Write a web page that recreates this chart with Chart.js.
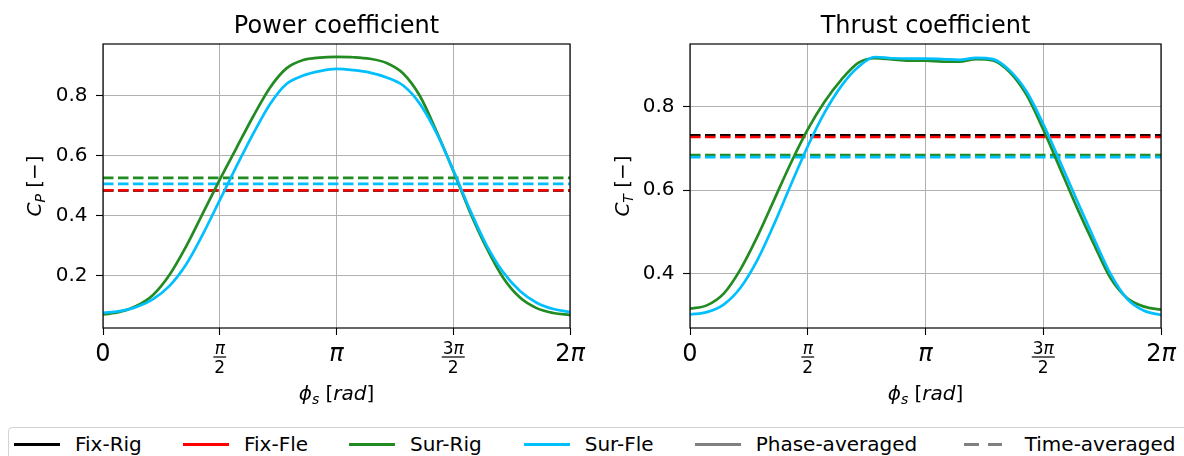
<!DOCTYPE html>
<html>
<head>
<meta charset="utf-8">
<script src="https://cdn.jsdelivr.net/npm/chart.js@4.4.1/dist/chart.umd.min.js"></script>
<style>
  html, body { margin: 0; padding: 0; background: #ffffff; }
  #wrap { position: relative; width: 1184px; height: 456px; overflow: hidden; }
  #wrap canvas { position: absolute; top: 0; }
  #cpChart { left: 0; }
  #ctChart { left: 590px; }
  #legend {
    position: absolute; left: 8px; top: 427px; width: 1200px; height: 60px;
    border: 1px solid #d3d3d3; border-radius: 4px; box-sizing: border-box;
  }
  .lg-line { position: absolute; height: 3.3px; }
  .lg-text {
    position: absolute; font: 20px 'DejaVu Sans'; line-height: 20px;
    color: #000; white-space: nowrap;
  }
</style>
</head>
<body>
<div id="wrap">
  <canvas id="cpChart" width="590" height="420"></canvas>
  <canvas id="ctChart" width="594" height="420"></canvas>
  <div id="legend"></div>
</div>
<script>
// Blade phase angle samples (rad)
const phase = [0, 0.224, 0.449, 0.673, 0.898, 1.122, 1.346, 1.571, 1.795, 2.020,
               2.244, 2.468, 2.693, 2.917, 3.142, 3.366, 3.590, 3.815, 4.039, 4.264,
               4.488, 4.712, 4.937, 5.161, 5.386, 5.610, 5.834, 6.059, 6.283];

// Phase-averaged power coefficient
const cpSurRig = [0.072, 0.080, 0.100, 0.137, 0.205, 0.300, 0.410, 0.520, 0.625, 0.730,
                  0.825, 0.890, 0.918, 0.926, 0.928, 0.927, 0.922, 0.908, 0.873, 0.798,
                  0.680, 0.550, 0.413, 0.293, 0.193, 0.128, 0.093, 0.077, 0.070];
const cpSurFle = [0.077, 0.083, 0.097, 0.123, 0.168, 0.240, 0.340, 0.452, 0.564, 0.672,
                  0.770, 0.838, 0.866, 0.881, 0.888, 0.884, 0.876, 0.860, 0.833, 0.772,
                  0.675, 0.552, 0.420, 0.302, 0.212, 0.150, 0.111, 0.090, 0.080];

// Phase-averaged thrust coefficient
const ctSurRig = [0.317, 0.325, 0.353, 0.411, 0.489, 0.577, 0.665, 0.745, 0.811, 0.864,
                  0.904, 0.915, 0.912, 0.909, 0.909, 0.907, 0.907, 0.913, 0.910, 0.882,
                  0.828, 0.745, 0.652, 0.559, 0.472, 0.390, 0.342, 0.322, 0.315];
const ctSurFle = [0.303, 0.309, 0.327, 0.367, 0.433, 0.519, 0.613, 0.705, 0.785, 0.849,
                  0.894, 0.918, 0.915, 0.914, 0.914, 0.913, 0.911, 0.916, 0.913, 0.886,
                  0.836, 0.758, 0.668, 0.576, 0.486, 0.400, 0.340, 0.312, 0.302];

// Time-averaged values, order: Fix-Rig, Fix-Fle, Sur-Rig, Sur-Fle
const caseNames = ['Fix-Rig', 'Fix-Fle', 'Sur-Rig', 'Sur-Fle'];
const caseColors = ['#000000', '#ff0000', '#228b22', '#00bfff'];
const cpMean = [0.484, 0.485, 0.526, 0.506];
const ctMean = [0.731, 0.727, 0.684, 0.679];

// Axis ticks
const xTickValues = [0, Math.PI / 2, Math.PI, 3 * Math.PI / 2, 2 * Math.PI];
const xTickLabels = ['0', 'π/2', 'π', '3π/2', '2π'];
const cpTicks = [0.2, 0.4, 0.6, 0.8];
const ctTicks = [0.4, 0.6, 0.8];

const styleNames = ['Phase-averaged', 'Time-averaged'];
const FONT = "'DejaVu Sans'";

// ---- small math-text helpers (italic letters, upright digits/symbols) ----
function mathParts(str, size, dy) {
  return [...str].map(ch => ({
    ch,
    font: (/[A-Za-zπϕ]/.test(ch) ? 'italic ' : '') + size + 'px ' + FONT,
    dy: dy || 0
  }));
}
function partsWidth(ctx, parts) {
  let w = 0;
  parts.forEach(p => { ctx.font = p.font; w += ctx.measureText(p.ch).width; });
  return w;
}
function drawParts(ctx, parts, x, y) {
  let cx = x;
  ctx.textAlign = 'left';
  ctx.textBaseline = 'alphabetic';
  parts.forEach(p => {
    ctx.font = p.font;
    ctx.fillText(p.ch, cx, y + p.dy);
    cx += ctx.measureText(p.ch).width;
  });
}

function drawTickLabel(ctx, label, x) {
  if (label.includes('/')) {
    const [num, den] = label.split('/');
    const pn = mathParts(num, 17), pd = mathParts(den, 17);
    const wn = partsWidth(ctx, pn), wd = partsWidth(ctx, pd);
    const w = Math.max(wn, wd) + 2;
    drawParts(ctx, pn, x - wn / 2, 354);
    drawParts(ctx, pd, x - wd / 2, 372.5);
    ctx.fillRect(x - w / 2, 356.4, w, 1.2);
  } else {
    const p = mathParts(label, 24);
    drawParts(ctx, p, x - partsWidth(ctx, p) / 2, 361);
  }
}

const decorPlugin = {
  id: 'decor',
  afterDraw(chart, args, opts) {
    const { ctx, chartArea: a, scales: { x } } = chart;
    ctx.save();
    ctx.fillStyle = '#000';
    // frame
    ctx.strokeStyle = '#000';
    ctx.lineWidth = 1.2;
    ctx.strokeRect(a.left, a.top, a.right - a.left, a.bottom - a.top);
    // title
    ctx.font = '24px ' + FONT;
    ctx.textAlign = 'center';
    ctx.textBaseline = 'alphabetic';
    ctx.fillText(opts.title, (a.left + a.right) / 2, 32.5);
    // x tick labels
    xTickValues.forEach((v, i) => drawTickLabel(ctx, xTickLabels[i], x.getPixelForValue(v)));
    // x axis title: phi_s [rad]
    const xt = [
      ...mathParts('ϕ', 20), ...mathParts('s', 14, 4), ...mathParts(' ', 20),
      ...mathParts('[', 20), ...mathParts('rad', 20), ...mathParts(']', 20)
    ];
    drawParts(ctx, xt, (a.left + a.right) / 2 - partsWidth(ctx, xt) / 2, 400);
    // y axis title: C_sub [−]
    const yt = [
      ...mathParts('C', 20), ...mathParts(opts.ySub, 14, 4), ...mathParts(' ', 20),
      ...mathParts('[', 20), ...mathParts('−', 20), ...mathParts(']', 20)
    ];
    ctx.translate(opts.yTitleX, (a.top + a.bottom) / 2);
    ctx.rotate(-Math.PI / 2);
    drawParts(ctx, yt, -partsWidth(ctx, yt) / 2, 0);
    ctx.restore();
  }
};

function buildChart(id, cfg) {
  const canvas = document.getElementById(id);
  const W = canvas.width, H = canvas.height;
  const pts = ys => phase.map((p, i) => ({ x: p, y: ys[i] }));
  const flat = v => [{ x: 0, y: v }, { x: 2 * Math.PI, y: v }];
  const solid = (ys, c) => ({
    data: pts(ys), borderColor: c, borderWidth: 2.7, pointRadius: 0,
    cubicInterpolationMode: 'monotone', fill: false
  });
  const dashed = (v, c) => ({
    data: flat(v), borderColor: c, borderWidth: 2.6, pointRadius: 0,
    borderDash: [10.5, 4.5], fill: false
  });
  const grid = { color: '#b0b0b0', lineWidth: 1, tickLength: 7, tickColor: '#000', tickWidth: 1.1 };
  return new Chart(canvas, {
    type: 'line',
    data: {
      datasets: [
        solid(cfg.surFle, caseColors[3]),
        solid(cfg.surRig, caseColors[2]),
        dashed(cfg.mean[3], caseColors[3]),
        dashed(cfg.mean[2], caseColors[2]),
        dashed(cfg.mean[1], caseColors[1]),
        dashed(cfg.mean[0], caseColors[0])
      ]
    },
    options: {
      responsive: false,
      animation: false,
      events: [],
      layout: { padding: { left: 0, top: cfg.area.top, right: W - cfg.area.right, bottom: 0 } },
      plugins: {
        legend: { display: false },
        tooltip: { enabled: false },
        decor: { title: cfg.title, ySub: cfg.ySub, yTitleX: cfg.yTitleX }
      },
      scales: {
        x: {
          type: 'linear', min: 0, max: 2 * Math.PI,
          afterBuildTicks: s => { s.ticks = xTickValues.map(v => ({ value: v })); },
          afterFit: s => { s.height = H - cfg.area.bottom; },
          ticks: { display: false },
          grid, border: { display: false }
        },
        y: {
          type: 'linear', min: cfg.yMin, max: cfg.yMax,
          afterBuildTicks: s => { s.ticks = cfg.yTicks.map(v => ({ value: v })); },
          afterFit: s => { s.width = cfg.area.left; },
          ticks: {
            font: { family: 'DejaVu Sans', size: 20 }, color: '#000', padding: 8.5,
            callback: v => Number(v).toFixed(1)
          },
          grid, border: { display: false }
        }
      }
    },
    plugins: [decorPlugin]
  });
}

buildChart('cpChart', {
  title: 'Power coefficient', ySub: 'P', yTitleX: 41,
  surRig: cpSurRig, surFle: cpSurFle, mean: cpMean,
  yMin: 0.027, yMax: 0.971, yTicks: cpTicks,
  area: { left: 103, right: 570, top: 44, bottom: 328 }
});
buildChart('ctChart', {
  title: 'Thrust coefficient', ySub: 'T', yTitleX: 39,
  surRig: ctSurRig, surFle: ctSurFle, mean: ctMean,
  yMin: 0.271, yMax: 0.949, yTicks: ctTicks,
  area: { left: 100, right: 571, top: 44, bottom: 328 }
});

// ---- shared legend below both panels ----
const legendEntries = caseNames.map((n, i) => ({ label: n, color: caseColors[i], dashed: false }))
  .concat([{ label: styleNames[0], color: '#808080', dashed: false },
           { label: styleNames[1], color: '#808080', dashed: true }]);
const legendX = [14.3, 183.3, 349.3, 524, 695, 964];
const lg = document.getElementById('legend');
const ox = 9, oy = 428; // legend box inner origin on the page
legendEntries.forEach((e, i) => {
  const segs = e.dashed ? [[0, 14.5], [23.5, 14.5]] : [[0, 45.7]];
  segs.forEach(([dx, w]) => {
    const d = document.createElement('div');
    d.className = 'lg-line';
    d.style.left = (legendX[i] + dx - ox) + 'px';
    d.style.top = (444.3 - 1.65 - oy) + 'px';
    d.style.width = w + 'px';
    d.style.background = e.color;
    lg.appendChild(d);
  });
  const t = document.createElement('div');
  t.className = 'lg-text';
  t.textContent = e.label;
  t.style.left = (legendX[i] + 60.7 - ox) + 'px';
  t.style.top = (434.4 - oy) + 'px';
  lg.appendChild(t);
});
</script>
</body>
</html>
